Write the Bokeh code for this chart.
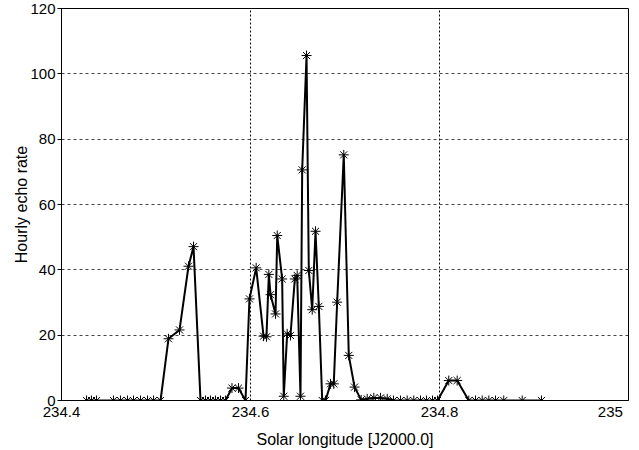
from bokeh.plotting import figure
from bokeh.models import FixedTicker, Range1d
from bokeh.embed import file_html
from bokeh.resources import INLINE

# Solar longitude (J2000.0, degrees) of each count interval
solar_longitude = [
    234.4265, 234.4317, 234.4370, 234.4550, 234.4624, 234.4698, 234.4762,
    234.4836, 234.4910, 234.4974, 234.5048, 234.5132, 234.5249, 234.5344,
    234.5397, 234.5471, 234.5524, 234.5577, 234.5630, 234.5683, 234.5735,
    234.5804, 234.5873, 234.5947, 234.5989, 234.6060, 234.6138, 234.6169,
    234.6194, 234.6212, 234.6265, 234.6283, 234.6335, 234.6352, 234.6388,
    234.6423, 234.6469, 234.6494, 234.6529, 234.6547, 234.6593, 234.6617,
    234.6653, 234.6688, 234.6723, 234.6759, 234.6794, 234.6847, 234.6881,
    234.6917, 234.6987, 234.7040, 234.7101, 234.7171, 234.7235, 234.7305,
    234.7376, 234.7447, 234.7513, 234.7587, 234.7658, 234.7728, 234.7799,
    234.7862, 234.7926, 234.7979, 234.8098, 234.8187, 234.8310, 234.8381,
    234.8452, 234.8522, 234.8593, 234.8680, 234.8875, 234.9079,
]

# Hourly echo rate for each interval
hourly_rate = [
    0, 0, 0, 0, 0, 0, 0,
    0, 0, 0, 0, 18.9, 21.6, 41.1,
    47.1, 0, 0, 0, 0, 0, 0,
    3.8, 3.8, 0, 31.1, 40.6, 19.7, 19.5,
    38.6, 32.4, 26.5, 50.5, 37.2, 1.3, 20.4,
    19.9, 37.2, 38.3, 1.3, 70.6, 105.6, 39.8,
    27.8, 51.8, 28.8, 0, 0, 5.1, 5.1,
    30.1, 75.2, 13.8, 4.1, 0.2, 0.5, 0.8,
    0.8, 0.5, 0, 0, 0, 0, 0,
    0, 0, 0, 6.1, 6.1, 0, 0,
    0, 0, 0, 0, 0, 0,
]

x_ticks = [234.4, 234.6, 234.8, 235.0]
x_tick_labels = ["234.4", "234.6", "234.8", "235"]
y_ticks = [0, 20, 40, 60, 80, 100, 120]

FONT = "Liberation Sans"
TICK_SIZE = "15px"
LABEL_SIZE = "16px"

p = figure(
    width=639, height=450,
    output_backend="svg", toolbar_location=None,
    x_range=Range1d(234.4, 235.0), y_range=Range1d(0, 120),
    min_border_left=61, min_border_right=11,
    min_border_top=8, min_border_bottom=50,
)
p.background_fill_color = "white"
p.border_fill_color = "white"
p.outline_line_color = "black"
p.outline_line_width = 1

p.xaxis.ticker = FixedTicker(ticks=x_ticks)
p.yaxis.ticker = FixedTicker(ticks=y_ticks)
# pad the last x label on the right so it sits inside the frame edge
overrides = {t: s for t, s in zip(x_ticks, x_tick_labels)}
overrides[x_ticks[-1]] = x_tick_labels[-1] + "\u00a0" * 4
p.xaxis.major_label_overrides = overrides
p.xaxis.axis_label = "Solar longitude [J2000.0]"
p.yaxis.axis_label = "Hourly echo rate"

for ax in (p.xaxis, p.yaxis):
    ax.axis_line_color = "black"
    ax.major_tick_line_color = "black"
    ax.minor_tick_line_color = None
    ax.major_label_text_font = FONT
    ax.major_label_text_font_size = TICK_SIZE
    ax.major_label_text_color = "black"
    ax.axis_label_text_font = FONT
    ax.axis_label_text_font_size = LABEL_SIZE
    ax.axis_label_text_font_style = "normal"
    ax.axis_label_text_color = "black"

p.xaxis.major_tick_out = 0
p.xaxis.major_tick_in = 0
p.xaxis.major_label_standoff = 2
p.xaxis.axis_label_standoff = 8
p.yaxis.major_tick_out = 4
p.yaxis.major_tick_in = 0
p.yaxis.major_label_standoff = 2
p.yaxis.axis_label_standoff = -3

p.xgrid.grid_line_color = "black"
p.xgrid.grid_line_dash = "2 2"
p.xgrid.grid_line_width = 1
p.ygrid.grid_line_color = "#444444"
p.ygrid.grid_line_dash = "3 3"
p.ygrid.grid_line_width = 1

p.line(solar_longitude, hourly_rate, line_color="black", line_width=2)
p.scatter(solar_longitude, hourly_rate, marker="asterisk", size=10,
          line_color="black", line_width=1)

open("out.html", "w").write(file_html(p, INLINE))
